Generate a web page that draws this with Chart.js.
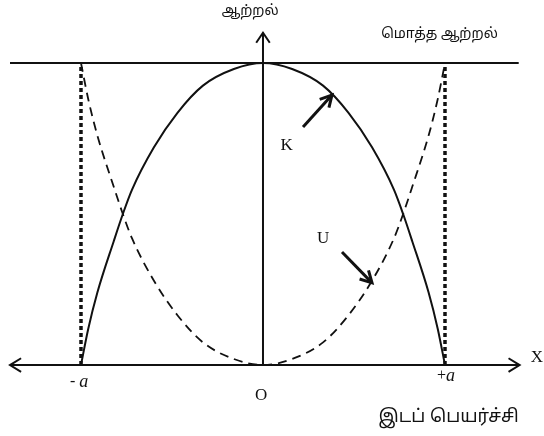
<!DOCTYPE html>
<html>
<head>
<meta charset="utf-8">
<script src="https://cdn.jsdelivr.net/npm/chart.js@4"></script>
<style>
  html, body { margin: 0; padding: 0; background: #fff; }
  #wrap { width: 544px; height: 436px; }
</style>
</head>
<body>
<div id="wrap"><canvas id="energyChart"></canvas></div>
<script>
// 변위(단위: a) 와 에너지(단위: 전체 에너지) - 그림에서 읽은 값
const displacement = [-1, -0.96, -0.91, -0.82, -0.77, -0.72, -0.60, -0.47, -0.33, -0.16, 0,
                      0.16, 0.33, 0.47, 0.60, 0.72, 0.77, 0.82, 0.91, 0.96, 1];
const kinetic   = [0, 0.12, 0.24, 0.41, 0.50, 0.58, 0.72, 0.835, 0.925, 0.98, 1,
                   0.98, 0.925, 0.835, 0.72, 0.58, 0.50, 0.41, 0.24, 0.12, 0];
const potential = [1, 0.88, 0.76, 0.59, 0.50, 0.42, 0.28, 0.165, 0.075, 0.02, 0,
                   0.02, 0.075, 0.165, 0.28, 0.42, 0.50, 0.59, 0.76, 0.88, 1];
const totalEnergy = 1;
const amplitude = 1;

// 축 눈금 / 글자
const tickValues = [-1, 0, 1];
const tickLabels = ["- a", "O", "+a"];
const yTitle = "ஆற்றல்";
const xTitle = "இடப் பெயர்ச்சி";
const totalTitle = "மொத்த ஆற்றல்";
const curveNames = ["K", "U"];

const tamilFont = '"Noto Sans Tamil", "Lohit Tamil", "Noto Sans", "DejaVu Sans", sans-serif';
const serifFont = '"Liberation Serif", "DejaVu Serif", serif';

const toPoints = (xs, ys) => xs.map((x, i) => ({ x: x, y: ys[i] }));

// 화살표 (열린 꺾쇠 모양)
const arrowHead = (ctx, x1, y1, x2, y2, len, spread) => {
  const ang = Math.atan2(y2 - y1, x2 - x1);
  ctx.beginPath();
  ctx.moveTo(x2 - len * Math.cos(ang - spread), y2 - len * Math.sin(ang - spread));
  ctx.lineTo(x2, y2);
  ctx.lineTo(x2 - len * Math.cos(ang + spread), y2 - len * Math.sin(ang + spread));
  ctx.stroke();
};

const decorPlugin = {
  id: "decor",
  afterDatasetsDraw(chart) {
    const ctx = chart.ctx;
    const xs = chart.scales.x;
    const ys = chart.scales.y;
    const px = (v) => xs.getPixelForValue(v);
    const py = (v) => ys.getPixelForValue(v);

    ctx.save();
    ctx.strokeStyle = "#111";
    ctx.fillStyle = "#111";
    ctx.lineCap = "butt";

    // x 축 (양쪽 화살표)
    ctx.lineWidth = 2;
    ctx.beginPath();
    ctx.moveTo(px(-1.39), py(0));
    ctx.lineTo(px(1.41), py(0));
    ctx.stroke();
    arrowHead(ctx, px(0), py(0), px(1.41), py(0), 13, 0.55);
    arrowHead(ctx, px(0), py(0), px(-1.39), py(0), 13, 0.55);

    // y 축
    ctx.beginPath();
    ctx.moveTo(px(0), py(0));
    ctx.lineTo(px(0), py(1.10));
    ctx.stroke();
    arrowHead(ctx, px(0), py(0), px(0), py(1.10), 12, 0.6);

    // K, U 가리키는 화살표
    ctx.lineWidth = 3;
    const pointers = [
      [0.22, 0.788, 0.379, 0.894],
      [0.434, 0.374, 0.599, 0.272],
    ];
    pointers.forEach(([a, b, c, d]) => {
      ctx.beginPath();
      ctx.moveTo(px(a), py(b));
      ctx.lineTo(px(c), py(d));
      ctx.stroke();
      arrowHead(ctx, px(a), py(b), px(c), py(d), 13, 0.5);
    });

    // 글자
    ctx.textAlign = "center";
    ctx.textBaseline = "middle";
    ctx.font = `17px ${serifFont}`;
    ctx.fillText(curveNames[0], px(0.13), py(0.728));
    ctx.fillText(curveNames[1], px(0.33), py(0.42));
    ctx.fillText("X", px(1.505), py(0.026));
    ctx.fillText(tickLabels[1], px(-0.01), py(-0.10));

    // -a, +a (a 는 기울임)
    const drawSigned = (sign, x, y) => {
      ctx.font = `16px ${serifFont}`;
      const w1 = ctx.measureText(sign).width;
      ctx.font = `italic 18px ${serifFont}`;
      const w2 = ctx.measureText("a").width;
      let left = x - (w1 + w2) / 2;
      ctx.textAlign = "left";
      ctx.font = `16px ${serifFont}`;
      ctx.fillText(sign, left, y);
      ctx.font = `italic 18px ${serifFont}`;
      ctx.fillText("a", left + w1, y);
      ctx.textAlign = "center";
    };
    drawSigned("- ", px(-1.01), py(-0.056));
    drawSigned("+", px(1.005), py(-0.036));

    ctx.font = `14px ${tamilFont}`;
    ctx.fillText(yTitle, px(-0.07), py(1.169));
    ctx.fillText(totalTitle, px(0.97), py(1.093));
    ctx.font = `18px ${tamilFont}`;
    ctx.fillText(xTitle, px(1.02), py(-0.175));
    ctx.restore();
  },
};

const ctx = document.getElementById("energyChart").getContext("2d");

new Chart(ctx, {
  type: "scatter",
  data: {
    datasets: [
      {
        label: totalTitle,
        data: [{ x: -1.39, y: totalEnergy }, { x: 1.405, y: totalEnergy }],
        showLine: true,
        borderColor: "#111",
        borderWidth: 2,
        pointRadius: 0,
      },
      {
        label: "-a",
        data: [{ x: -amplitude, y: 0 }, { x: -amplitude, y: totalEnergy }],
        showLine: true,
        borderColor: "#111",
        borderWidth: 3.5,
        borderDash: [4, 3],
        pointRadius: 0,
      },
      {
        label: "+a",
        data: [{ x: amplitude, y: 0 }, { x: amplitude, y: totalEnergy }],
        showLine: true,
        borderColor: "#111",
        borderWidth: 3.5,
        borderDash: [4, 3],
        pointRadius: 0,
      },
      {
        label: curveNames[0],
        data: toPoints(displacement, kinetic),
        showLine: true,
        borderColor: "#111",
        borderWidth: 2,
        cubicInterpolationMode: "monotone",
        pointRadius: 0,
      },
      {
        label: curveNames[1],
        data: toPoints(displacement, potential),
        showLine: true,
        borderColor: "#111",
        borderWidth: 1.8,
        borderDash: [9, 6],
        cubicInterpolationMode: "monotone",
        pointRadius: 0,
      },
    ],
  },
  options: {
    responsive: true,
    maintainAspectRatio: false,
    animation: false,
    layout: { padding: 0, autoPadding: false },
    plugins: {
      legend: { display: false },
      tooltip: { enabled: false },
    },
    scales: {
      x: { type: "linear", display: false, min: -1.445, max: 1.544 },
      y: { type: "linear", display: false, min: -0.235, max: 1.2086 },
    },
  },
  plugins: [decorPlugin],
});
</script>
</body>
</html>
